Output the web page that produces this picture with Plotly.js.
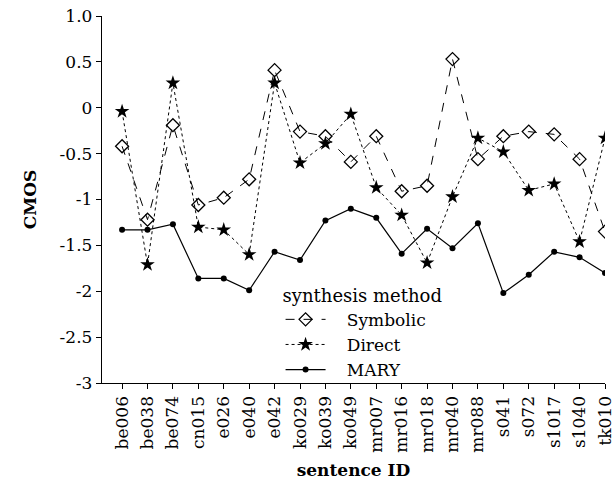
<!DOCTYPE html>
<html><head><meta charset="utf-8">
<script src="https://cdn.plot.ly/plotly-3.0.1.min.js"></script>
<style>body{margin:0;background:#fff}</style>
</head><body>
<div id="chart" style="width:614px;height:480px"></div>
<script>
const sentences = ["be006","be038","be074","cn015","e026","e040","e042","ko029","ko039","ko049","mr007","mr016","mr018","mr040","mr088","s041","s072","s1017","s1040","tk010"];
const symbolic = [-0.42,-1.22,-0.19,-1.06,-0.98,-0.78,0.41,-0.26,-0.31,-0.59,-0.31,-0.91,-0.85,0.53,-0.56,-0.31,-0.26,-0.29,-0.56,-1.35];
const direct = [-0.04,-1.71,0.27,-1.30,-1.33,-1.60,0.27,-0.60,-0.39,-0.07,-0.87,-1.17,-1.69,-0.97,-0.33,-0.48,-0.90,-0.83,-1.46,-0.33];
const mary = [-1.33,-1.33,-1.27,-1.86,-1.86,-1.99,-1.57,-1.66,-1.23,-1.10,-1.20,-1.59,-1.32,-1.53,-1.26,-2.02,-1.82,-1.57,-1.63,-1.80];
const yTickVals = [1.0,0.5,0,-0.5,-1,-1.5,-2,-2.5,-3];
const yTickText = ["1.0","0.5","0","-0.5","-1","-1.5","-2","-2.5","-3"];

const F = "'DejaVu Serif', serif";
const traces = [
  {x: sentences, y: symbolic, name: "\u00a0\u00a0\u00a0Symbolic", mode: "lines+markers",
   line: {color: "#000", width: 1, dash: "dash"},
   marker: {symbol: "diamond-open", size: 10, color: "#000", line: {width: 1.3}}},
  {x: sentences, y: direct, name: "\u00a0\u00a0\u00a0Direct", mode: "lines+markers",
   line: {color: "#000", width: 1, dash: "dot"},
   marker: {symbol: "star", size: 11, color: "#000", line: {width: 0}}},
  {x: sentences, y: mary, name: "\u00a0\u00a0\u00a0MARY", mode: "lines+markers",
   line: {color: "#000", width: 1.2},
   marker: {symbol: "circle", size: 6, color: "#000"}}
];
const layout = {
  width: 614, height: 480,
  margin: {l: 102, r: 9, t: 16, b: 97},
  paper_bgcolor: "#fff", plot_bgcolor: "#fff",
  font: {family: F, size: 17, color: "#000"},
  showlegend: true,
  legend: {x: 0.355, y: 0.285, xanchor: "left", yanchor: "top",
    bgcolor: "rgba(0,0,0,0)", font: {family: F, size: 17, color: "#000"},
    title: {text: "synthesis method", font: {family: F, size: 18}},
    tracegroupgap: 0, itemwidth: 40},
  xaxis: {type: "category", range: [-0.79, 19], showline: true, linecolor: "#000", linewidth: 1.2,
    ticks: "outside", ticklen: 5, tickcolor: "#000", showgrid: false, zeroline: false,
    tickangle: -90, tickfont: {family: F, size: 17},
    title: {text: "<b>sentence ID</b>", font: {family: F, size: 17}, standoff: 12}},
  yaxis: {range: [-3, 1], showline: true, linecolor: "#000", linewidth: 1.2,
    ticks: "outside", ticklen: 5, tickcolor: "#000", showgrid: false, zeroline: false,
    tickvals: yTickVals, ticktext: yTickText, tickfont: {family: F, size: 17},
    title: {text: "<b>CMOS</b>", font: {family: F, size: 17}, standoff: 18}}
};
Plotly.newPlot("chart", traces, layout, {displayModeBar: false, staticPlot: true});
</script>
</body></html>
